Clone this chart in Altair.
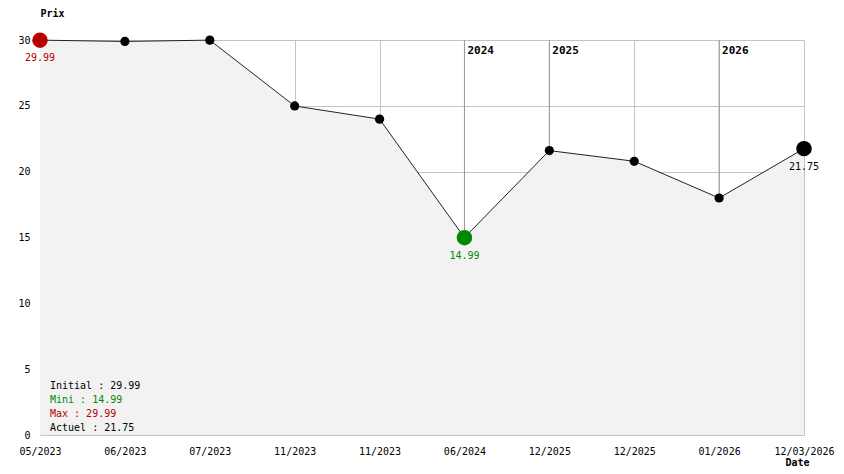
import altair as alt
import pandas as pd

labels = ["05/2023", "06/2023", "07/2023", "11/2023", "11/2023",
          "06/2024", "12/2025", "12/2025", "01/2026", "12/03/2026"]
prices = [29.99, 29.89, 29.99, 24.99, 23.99, 14.99, 21.6, 20.79, 18.0, 21.75]
years = ["2024", "2025", "2026"]
year_idx = [5, 6, 8]

FONT = "DejaVu Sans Mono"
RED = "#b80000"
GREEN = "#008a00"

df = pd.DataFrame({"i": list(range(len(prices))), "price": prices, "label": labels})
n = len(prices)
imin = prices.index(min(prices))
imax = prices.index(max(prices))
ilast = n - 1

kind = []
for k in range(n):
    if k == imax:
        kind.append("max")
    elif k == imin:
        kind.append("min")
    elif k == ilast:
        kind.append("last")
    else:
        kind.append("normal")
df["kind"] = kind
df["txt"] = [f"{p:.2f}" if kd != "normal" else "" for p, kd in zip(prices, kind)]

yr = pd.DataFrame({"i": year_idx, "year": years, "top": [30] * len(years),
                   "price": [prices[k] for k in year_idx]})

label_arr = "[" + ",".join(f"'{s}'" for s in labels) + "]"

x = alt.X("i:Q", scale=alt.Scale(domain=[0, n - 1], nice=False, zero=False),
          axis=alt.Axis(values=list(range(n)), labelExpr=f"{label_arr}[datum.value]",
                        title="Date", titleFont=FONT, titleFontSize=10, titleFontWeight="bold",
                        titleX=757, titleY=27, titleAnchor="start", titleAlign="center",
                        titleBaseline="middle",
                        labelFont=FONT, labelFontSize=10, labelColor="#000",
                        labelPadding=11, ticks=False, domain=False,
                        grid=True, gridColor="#c4c4c4", gridWidth=1,
                        labelOverlap=False, labelBound=False, labelFlush=False))
y = alt.Y("price:Q", scale=alt.Scale(domain=[0, 30], nice=False),
          axis=alt.Axis(values=[0, 5, 10, 15, 20, 25, 30], title="Prix",
                        titleFont=FONT, titleFontSize=10, titleFontWeight="bold",
                        titleAngle=0, titleX=0, titleY=-27, titleAlign="left",
                        titleBaseline="middle", titleAnchor="start",
                        labelFont=FONT, labelFontSize=10, labelColor="#000",
                        labelPadding=10, ticks=False, domain=False,
                        grid=True, gridColor="#c4c4c4", gridWidth=1))

base = alt.Chart(df)

area = base.mark_area(color="#f2f2f2", opacity=1).encode(x=x, y=y)

rules = alt.Chart(yr).mark_rule(color="#999999", strokeWidth=1).encode(
    x="i:Q", y="top:Q", y2="price:Q")
year_text = alt.Chart(yr).mark_text(font=FONT, fontSize=11, fontWeight="bold",
                                    align="left", baseline="middle", dx=3, dy=11,
                                    color="#000").encode(
    x="i:Q", y="top:Q", text="year:N")

line = base.mark_line(color="#222", strokeWidth=1).encode(x=x, y=y)

color_scale = alt.Scale(domain=["normal", "max", "min", "last"],
                        range=["#000000", RED, GREEN, "#000000"])
points = base.transform_calculate(
    sz="datum.kind == 'normal' ? 85 : 240"
).mark_circle(opacity=1).encode(
    x=x, y=y,
    color=alt.Color("kind:N", scale=color_scale, legend=None),
    size=alt.Size("sz:Q", scale=None, legend=None))

val_text = base.mark_text(font=FONT, fontSize=10, align="center", baseline="middle",
                          dy=18).encode(
    x=x, y=y, text="txt:N",
    color=alt.Color("kind:N", scale=color_scale, legend=None))

info = pd.DataFrame({
    "t": [f"Initial : {prices[0]:.2f}", f"Mini : {min(prices):.2f}",
          f"Max : {max(prices):.2f}", f"Actuel : {prices[-1]:.2f}"],
    "c": ["#000000", GREEN, RED, "#000000"],
    "row": [0, 1, 2, 3],
})
info_text = alt.Chart(info).transform_calculate(
    py="346 + 14 * datum.row"
).mark_text(font=FONT, fontSize=10, align="left", baseline="middle").encode(
    x=alt.value(10),
    y=alt.Y("py:Q", scale=None, axis=None),
    text="t:N",
    color=alt.Color("c:N", scale=None))

chart = alt.layer(area, rules, year_text, line, points, val_text, info_text).resolve_scale(
    color="independent"
).properties(
    width=764, height=395,
    autosize=alt.AutoSizeParams(type="none"),
    padding={"left": 32, "top": 32, "right": 32, "bottom": 31},
    background="#ffffff",
).configure_view(stroke=None)

chart.save("out.html", embed_options={"renderer": "svg", "actions": False})
